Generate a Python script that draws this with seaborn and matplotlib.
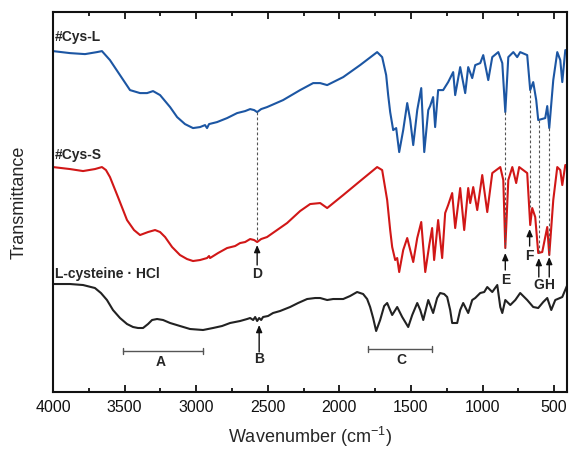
import matplotlib
matplotlib.use("Agg")
import matplotlib.pyplot as plt
import seaborn as sns
import pandas as pd

# FTIR spectra (wavenumber in cm-1, transmittance in offset arbitrary units)
cys_l_wn = [4000, 3881, 3776, 3693, 3658, 3602, 3532, 3462, 3392, 3343, 3301, 3252, 3182, 3133,
            3078, 3022, 2973, 2938, 2924, 2910, 2854, 2784, 2714, 2658, 2623, 2595, 2574, 2546,
            2505, 2393, 2274, 2183, 2134, 2085, 1973, 1855, 1736, 1701, 1673, 1659, 1645, 1624,
            1603, 1582, 1554, 1526, 1505, 1484, 1456, 1428, 1407, 1379, 1366, 1345, 1331, 1310,
            1275, 1240, 1205, 1191, 1156, 1121, 1100, 1072, 1051, 1016, 995, 960, 932, 890, 862,
            841, 820, 785, 758, 737, 688, 667, 646, 625, 611, 562, 548, 534, 506, 478, 457, 443,
            422, 401]
cys_l_t = [341, 339, 338, 340, 341, 332, 317, 302, 299, 299, 301, 297, 285, 275,
           268, 264, 265, 267, 264, 268, 270, 274, 279, 281, 283, 282, 280, 283,
           285, 292, 302, 309, 309, 307, 315, 327, 340, 335, 317, 297, 280, 262,
           264, 240, 262, 289, 272, 247, 282, 304, 240, 282, 286, 295, 265, 302,
           302, 310, 320, 297, 325, 299, 325, 314, 327, 329, 337, 312, 335, 340, 329,
           280, 335, 340, 335, 340, 337, 302, 310, 292, 272, 274, 286, 264, 312, 340, 332, 310,
           342, 342]

cys_s_wn = [4000, 3881, 3790, 3707, 3658, 3630, 3602, 3546, 3483, 3434, 3392, 3336, 3287, 3252,
            3217, 3168, 3113, 3064, 3022, 2973, 2924, 2910, 2903, 2847, 2784, 2728, 2693, 2658,
            2623, 2595, 2574, 2546, 2505, 2435, 2365, 2274, 2204, 2134, 2085, 1973, 1855, 1736,
            1701, 1666, 1645, 1631, 1610, 1596, 1582, 1554, 1526, 1505, 1484, 1456, 1428, 1400,
            1372, 1352, 1338, 1310, 1282, 1261, 1240, 1212, 1191, 1156, 1128, 1100, 1086, 1065,
            1037, 1002, 967, 932, 876, 855, 841, 820, 792, 765, 744, 688, 667, 653, 632, 611,
            583, 548, 534, 506, 478, 457, 443, 422, 401]
cys_s_t = [225, 223, 221, 223, 225, 222, 215, 195, 172, 162, 157, 160, 162, 160,
           155, 145, 137, 133, 131, 132, 134, 136, 134, 139, 144, 146, 149, 150,
           153, 152, 150, 153, 155, 162, 169, 181, 188, 189, 184, 197, 211, 225,
           222, 192, 162, 145, 132, 134, 120, 142, 154, 142, 130, 154, 170, 120,
           147, 164, 132, 172, 134, 179, 187, 199, 164, 204, 162, 204, 189, 205,
           182, 217, 180, 219, 225, 212, 144, 212, 225, 209, 225, 219, 167, 184, 175, 139,
           140, 165, 137, 192, 225, 222, 207, 227, 227]

lcys_wn = [4000, 3881, 3790, 3707, 3665, 3623, 3581, 3532, 3483, 3441, 3406, 3371, 3336, 3308,
           3273, 3231, 3182, 3113, 3043, 2952, 2882, 2819, 2763, 2693, 2644, 2623, 2602, 2588,
           2574, 2560, 2546, 2533, 2498, 2463, 2414, 2344, 2288, 2225, 2169, 2134, 2085, 2043,
           1973, 1925, 1876, 1834, 1806, 1785, 1764, 1743, 1715, 1687, 1666, 1631, 1596, 1561,
           1519, 1491, 1456, 1435, 1414, 1379, 1345, 1317, 1296, 1268, 1247, 1226, 1212, 1177,
           1156, 1135, 1100, 1072, 1051, 1016, 988, 967, 932, 897, 876, 862, 841, 806, 771,
           737, 688, 646, 611, 576, 548, 520, 492, 443, 408]
lcys_t = [108, 108, 107, 104, 99, 92, 82, 74, 68, 65, 64, 64, 68, 72,
          73, 72, 69, 66, 63, 62, 64, 66, 69, 71, 73, 74, 72, 75,
          71, 74, 72, 75, 76, 79, 81, 85, 89, 93, 94, 94, 92, 93,
          93, 96, 100, 98, 93, 85, 74, 61, 72, 86, 89, 77, 85, 75,
          65, 77, 89, 82, 72, 92, 79, 94, 99, 98, 95, 82, 69, 69,
          82, 89, 79, 92, 94, 99, 100, 105, 100, 107, 85, 79, 92, 87, 92,
          99, 92, 85, 84, 90, 94, 82, 92, 95, 107]

# Band markers
peak_names = ["D", "E", "F", "G", "H"]
peak_wn = [2574, 841, 671, 607, 534]
band_names = ["A", "C"]
band_ranges = [(3511, 2952), (1799, 1352)]
band_label_wn = [3245, 1568]

blue = "#1c56a3"
red = "#d11717"
black = "#222222"

sns.set_theme(style="ticks")
plt.rcParams["font.family"] = ["Liberation Sans", "DejaVu Sans"]
plt.rcParams["mathtext.fontset"] = "custom"
plt.rcParams["mathtext.rm"] = "Liberation Sans"
plt.rcParams["mathtext.default"] = "regular"

fig = plt.figure(figsize=(5.69, 4.49), dpi=100)
ax = fig.add_axes([0.0931, 0.127, 0.9034, 0.846])

for wn, t, c in [(cys_l_wn, cys_l_t, blue), (cys_s_wn, cys_s_t, red), (lcys_wn, lcys_t, black)]:
    df = pd.DataFrame({"wn": wn, "t": t})
    sns.lineplot(data=df, x="wn", y="t", color=c, lw=1.5, estimator=None, sort=False, ax=ax)

ax.set_xlim(4000, 410)
ax.set_ylim(0, 380)
ax.set_xticks([4000, 3500, 3000, 2500, 2000, 1500, 1000, 500])
ax.set_xticks([3750, 3250, 2750, 2250, 1750, 1250, 750], minor=True)
ax.set_yticks([])
ax.tick_params(axis="x", which="both", direction="in", top=True, width=1.3, labelsize=11.5,
               colors="#111111", pad=6)
ax.tick_params(axis="x", which="major", length=5)
ax.tick_params(axis="x", which="minor", length=3)
for s in ax.spines.values():
    s.set_linewidth(1.5)
    s.set_color("#111111")

ax.set_xlabel("Wavenumber (cm$^{-1}$)", fontsize=13, labelpad=7)
ax.set_ylabel("Transmittance", fontsize=13, labelpad=18)

# Curve names
ax.text(3986, 355, "#Cys-L", fontsize=10, fontweight="bold", va="center", ha="left")
ax.text(3986, 237, "#Cys-S", fontsize=10, fontweight="bold", va="center", ha="left")
ax.text(3986, 118, "L-cysteine \u00b7 HCl", fontsize=10, fontweight="bold", va="center", ha="left")

# Dashed guides from the #Cys-L peaks down to #Cys-S
guide_top = [280, 280, 302, 272, 264]
guide_bot = [150, 144, 185, 139, 137]
for w, y0, y1 in zip(peak_wn, guide_top, guide_bot):
    ax.plot([w, w], [y0, y1], ls=(0, (2.5, 2)), lw=0.8, color="#555555")

arrow_style = dict(arrowstyle="-|>,head_length=0.35,head_width=0.15", lw=1.0,
                   color="#111111", shrinkA=0, shrinkB=0)

# Arrows with letters
arrow_head = [147, 139, 163, 134, 135]
arrow_tail = [127, 122, 146, 115, 115]
label_y = [118, 112, 136, 107, 107]
for name, w, h, tl, ly in zip(peak_names, peak_wn, arrow_head, arrow_tail, label_y):
    ax.annotate("", xy=(w, h), xytext=(w, tl), arrowprops=arrow_style)
    ax.text(w, ly, name, fontsize=10, fontweight="bold", ha="center", va="center")

ax.annotate("", xy=(2560, 67), xytext=(2560, 40), arrowprops=arrow_style)
ax.text(2560, 33, "B", fontsize=10, fontweight="bold", ha="center", va="center")

# Band ranges
for name, (w0, w1), lw_, y in zip(band_names, band_ranges, band_label_wn, [41, 43]):
    ax.plot([w0, w1], [y, y], color="#555555", lw=1.0)
    ax.plot([w0, w0], [y - 3, y + 3], color="#555555", lw=1.0)
    ax.plot([w1, w1], [y - 3, y + 3], color="#555555", lw=1.0)
    ax.text(lw_, y - 11, name, fontsize=10, fontweight="bold", ha="center", va="center")

fig.savefig("out.png", dpi=100)
